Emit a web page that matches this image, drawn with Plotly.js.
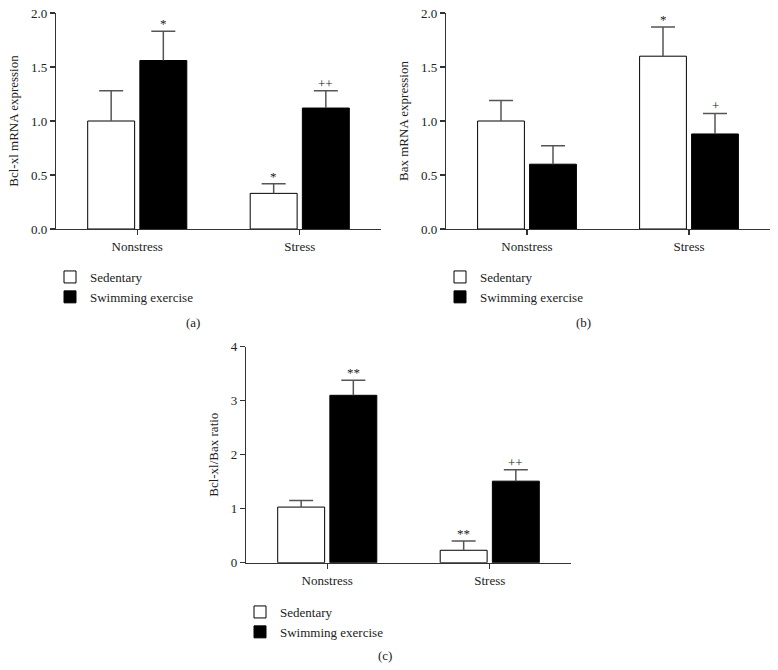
<!DOCTYPE html>
<html>
<head>
<meta charset="utf-8">
<script src="https://cdn.plot.ly/plotly-3.0.1.min.js"></script>
<style>html,body{margin:0;padding:0;background:#fff;}#chart{width:778px;height:670px;}</style>
</head>
<body>
<div id="chart"></div>
<script>
// ---- data ----
const categories = ['Nonstress', 'Stress'];
const seriesNames = ['Sedentary', 'Swimming exercise'];

const bclSedentary = [1.00, 0.33];
const bclSedentaryErr = [0.28, 0.09];
const bclSwimming = [1.56, 1.12];
const bclSwimmingErr = [0.27, 0.16];
const bclSedentaryMarks = ['', '*'];
const bclSwimmingMarks = ['*', '++'];

const baxSedentary = [1.00, 1.60];
const baxSedentaryErr = [0.19, 0.27];
const baxSwimming = [0.60, 0.88];
const baxSwimmingErr = [0.17, 0.19];
const baxSedentaryMarks = ['', '*'];
const baxSwimmingMarks = ['', '+'];

const ratioSedentary = [1.03, 0.23];
const ratioSedentaryErr = [0.12, 0.17];
const ratioSwimming = [3.10, 1.51];
const ratioSwimmingErr = [0.28, 0.21];
const ratioSedentaryMarks = ['', '**'];
const ratioSwimmingMarks = ['**', '++'];

const yTitles = ['Bcl-xl mRNA expression', 'Bax mRNA expression', 'Bcl-xl/Bax ratio'];
const panelLabels = ['(a)', '(b)', '(c)'];

// ---- styling ----
const FONT = 'Liberation Serif, Times New Roman, serif';
const TXT = '#222';
const AX = '#333';
const ERR = '#555';
const W = 778, H = 670;
const BARGAP = 0.358, BARGROUPGAP = 0.1;

const panels = [
  {xa: 'x', ya: 'y', leg: 'legend', sed: bclSedentary, sedE: bclSedentaryErr, swm: bclSwimming, swmE: bclSwimmingErr,
   sedM: bclSedentaryMarks, swmM: bclSwimmingMarks},
  {xa: 'x2', ya: 'y2', leg: 'legend2', sed: baxSedentary, sedE: baxSedentaryErr, swm: baxSwimming, swmE: baxSwimmingErr,
   sedM: baxSedentaryMarks, swmM: baxSwimmingMarks},
  {xa: 'x3', ya: 'y3', leg: 'legend3', sed: ratioSedentary, sedE: ratioSedentaryErr, swm: ratioSwimming, swmE: ratioSwimmingErr,
   sedM: ratioSedentaryMarks, swmM: ratioSwimmingMarks}
];

const traces = [];
const annotations = [];
panels.forEach((p, k) => {
  const mk = (name, vals, errs, fill, grp) => ({
    type: 'bar', name: name, x: categories, y: vals, xaxis: p.xa, yaxis: p.ya, legend: p.leg,
    offsetgroup: grp,
    marker: {color: fill, line: {color: '#000', width: 1}},
    // stem only (no caps), from bar top upward
    error_y: {type: 'data', array: errs, arrayminus: errs.map(() => 0), symmetric: false,
              color: ERR, thickness: 1.5, width: 0},
    hoverinfo: 'skip'
  });
  const cap = (vals, errs, grp) => ({
    type: 'scatter', mode: 'markers', x: categories, y: vals.map((v, i) => v + errs[i]),
    xaxis: p.xa, yaxis: p.ya, offsetgroup: grp, showlegend: false,
    marker: {size: 1, opacity: 0},
    error_y: {type: 'data', array: errs.map(() => 0), color: ERR, thickness: 1.5, width: 12},
    hoverinfo: 'skip'
  });
  traces.push(mk(seriesNames[0], p.sed, p.sedE, '#fff', 'sed'));
  traces.push(mk(seriesNames[1], p.swm, p.swmE, '#000', 'swm'));
  traces.push(cap(p.sed, p.sedE, 'sed'));
  traces.push(cap(p.swm, p.swmE, 'swm'));
  const slot = (1 - BARGAP) / 2;
  [[p.sed, p.sedE, p.sedM, 0], [p.swm, p.swmE, p.swmM, 1]].forEach(([v, e, m, s]) => {
    categories.forEach((c, i) => {
      if (!m[i]) return;
      annotations.push({
        xref: p.xa, yref: p.ya, x: i + (s - 0.5) * slot, y: v[i] + e[i],
        text: m[i], showarrow: false, yanchor: 'bottom', xanchor: 'center', yshift: -2,
        font: {family: FONT, size: 13, color: TXT}
      });
    });
  });
});

// panel labels
const labelPos = [[193, 322], [583, 322], [385, 655]];
panelLabels.forEach((t, k) => {
  annotations.push({xref: 'paper', yref: 'paper', x: labelPos[k][0] / W, y: 1 - labelPos[k][1] / H,
    text: t, showarrow: false, xanchor: 'center', yanchor: 'middle', font: {family: FONT, size: 13, color: TXT}});
});

function xAxis(l, r, anchor) {
  return {domain: [l / W, r / W], anchor: anchor, type: 'category', range: [-0.5, 1.5],
    showline: true, linecolor: AX, linewidth: 1.2, ticks: 'outside', ticklen: 5, tickcolor: AX, tickwidth: 1.2,
    showgrid: false, zeroline: false, fixedrange: true, automargin: false,
    tickfont: {family: FONT, size: 13, color: TXT}};
}
function yAxis(b, t, anchor, maxv, dt, fmt, title) {
  return {domain: [1 - b / H, 1 - t / H], anchor: anchor, range: [0, maxv], dtick: dt, tick0: 0, tickformat: fmt,
    showline: true, linecolor: AX, linewidth: 1.2, ticks: 'outside', ticklen: 5, tickcolor: AX, tickwidth: 1.2,
    showgrid: false, zeroline: false, fixedrange: true, automargin: false,
    tickfont: {family: FONT, size: 13, color: TXT},
    title: {text: title, font: {family: FONT, size: 13, color: TXT}, standoff: 9}};
}
function legend(x, y) {
  return {x: x / W, y: 1 - y / H, xanchor: 'left', yanchor: 'top', orientation: 'v', traceorder: 'normal',
    bgcolor: 'rgba(0,0,0,0)', borderwidth: 0, font: {family: FONT, size: 13, color: TXT},
    itemclick: false, itemdoubleclick: false, tracegroupgap: 0};
}

const layout = {
  width: W, height: H, margin: {l: 0, r: 0, t: 0, b: 0},
  paper_bgcolor: '#fff', plot_bgcolor: '#fff',
  barmode: 'group', bargap: BARGAP, bargroupgap: BARGROUPGAP,
  scattermode: 'group', scattergap: BARGAP,
  font: {family: FONT, size: 13, color: TXT},
  showlegend: true,
  xaxis: xAxis(56, 381, 'y'),
  yaxis: yAxis(229, 13, 'x', 2, 0.5, '.1f', yTitles[0]),
  xaxis2: xAxis(446, 770, 'y2'),
  yaxis2: yAxis(229, 13, 'x2', 2, 0.5, '.1f', yTitles[1]),
  xaxis3: xAxis(246, 571, 'y3'),
  yaxis3: yAxis(562.7, 346.7, 'x3', 4, 1, 'd', yTitles[2]),
  legend: legend(50, 262),
  legend2: legend(440, 262),
  legend3: legend(240, 597),
  annotations: annotations
};

Plotly.newPlot('chart', traces, layout, {staticPlot: true, displayModeBar: false});
</script>
</body>
</html>
